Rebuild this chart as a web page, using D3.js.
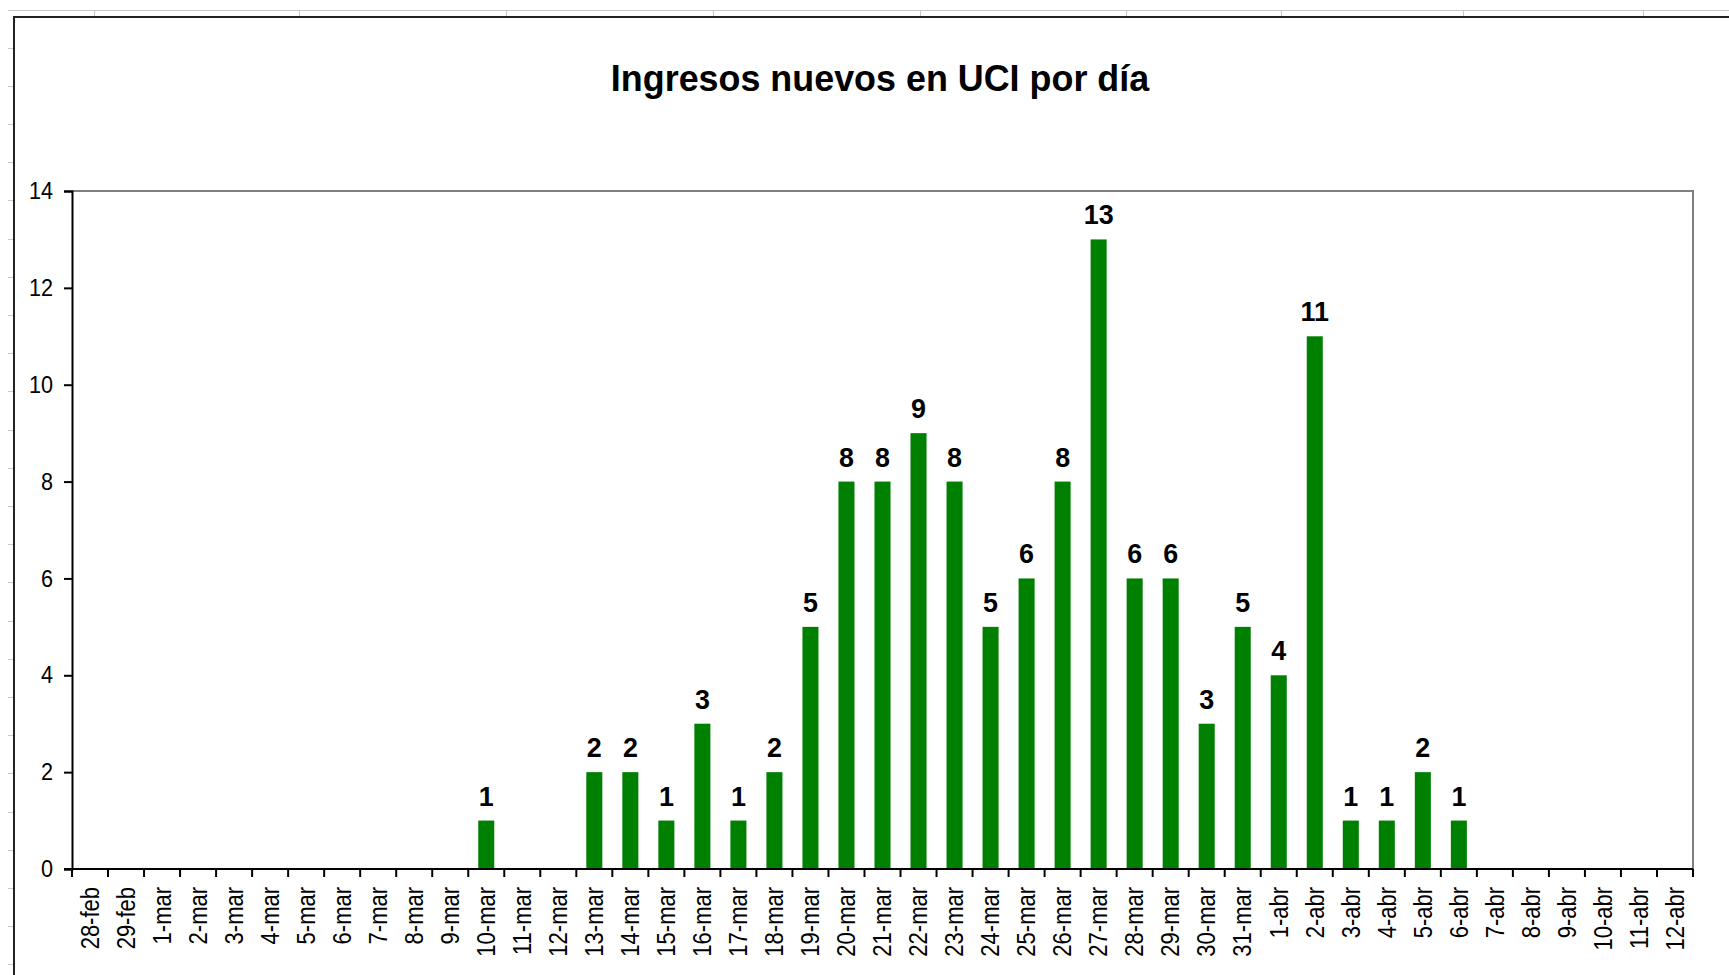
<!DOCTYPE html>
<html>
<head>
<meta charset="utf-8">
<script src="https://cdn.jsdelivr.net/npm/d3@7"></script>
<style>
  body { margin: 0; background: #fff; }
  text { font-family: "Liberation Sans", Arial, sans-serif; }
</style>
</head>
<body>
<div id="chart"></div>
<script>
// Data
var days = ["28-feb", "29-feb",
  "1-mar", "2-mar", "3-mar", "4-mar", "5-mar", "6-mar", "7-mar", "8-mar", "9-mar", "10-mar",
  "11-mar", "12-mar", "13-mar", "14-mar", "15-mar", "16-mar", "17-mar", "18-mar", "19-mar", "20-mar",
  "21-mar", "22-mar", "23-mar", "24-mar", "25-mar", "26-mar", "27-mar", "28-mar", "29-mar", "30-mar", "31-mar",
  "1-abr", "2-abr", "3-abr", "4-abr", "5-abr", "6-abr", "7-abr", "8-abr", "9-abr", "10-abr", "11-abr", "12-abr"];

// null = no bar that day
var ingresos = [null, null,
  null, null, null, null, null, null, null, null, null, 1,
  null, null, 2, 2, 1, 3, 1, 2, 5, 8,
  8, 9, 8, 5, 6, 8, 13, 6, 6, 3, 5,
  4, 11, 1, 1, 2, 1, null, null, null, null, null, null];

var yTicks = [0, 2, 4, 6, 8, 10, 12, 14];

var title = "Ingresos nuevos en UCI por día";

// Layout
var svgWidth = 1729, svgHeight = 975;
var plot = { left: 72, top: 191, right: 1693, bottom: 869 };

var svg = d3.select("#chart")
  .append("svg")
  .attr("width", svgWidth)
  .attr("height", svgHeight);

// Spreadsheet cells peeking out behind the chart
var sheet = svg.append("g").attr("stroke", "#c8c8c8").attr("stroke-width", 1);
sheet.append("line").attr("x1", 8).attr("x2", svgWidth).attr("y1", 10.5).attr("y2", 10.5);
[94, 299, 506, 713, 920, 1126, 1281, 1463, 1643].forEach(function(x) {
  sheet.append("line").attr("x1", x + 0.5).attr("x2", x + 0.5).attr("y1", 10).attr("y2", 17);
});
d3.range(47.5, svgHeight, 38.2).forEach(function(y) {
  sheet.append("line").attr("x1", 8).attr("x2", 13).attr("y1", Math.round(y) + 0.5).attr("y2", Math.round(y) + 0.5);
});

// Chart frame
svg.append("path")
  .attr("d", "M14,975 V17 H1729")
  .attr("fill", "none")
  .attr("stroke", "#222")
  .attr("stroke-width", 2);

// Scales
var xScale = d3.scaleBand()
  .domain(days)
  .range([plot.left, plot.right])
  .paddingInner(0.555)
  .paddingOuter(0.2775);

var yScale = d3.scaleLinear()
  .domain([0, 14])
  .range([plot.bottom, plot.top]);

// Plot area border (top / right)
svg.append("path")
  .attr("d", `M${plot.left},${plot.top} H${plot.right} V${plot.bottom}`)
  .attr("fill", "none")
  .attr("stroke", "#808080")
  .attr("stroke-width", 2);

// Bars
var barData = days.map(function(d, i) { return { day: d, value: ingresos[i] }; })
  .filter(function(d) { return d.value != null; });

svg.append("g").selectAll("rect")
  .data(barData)
  .enter()
  .append("rect")
  .attr("x", d => xScale(d.day))
  .attr("y", d => yScale(d.value))
  .attr("width", xScale.bandwidth())
  .attr("height", d => yScale(0) - yScale(d.value))
  .attr("fill", "#008000");

// Value labels
svg.append("g").selectAll("text")
  .data(barData)
  .enter()
  .append("text")
  .attr("transform", d => `translate(${xScale(d.day) + xScale.bandwidth() / 2}, ${yScale(d.value) - 15}) scale(0.96,1)`)
  .attr("text-anchor", "middle")
  .attr("font-size", "28px")
  .attr("font-weight", "bold")
  .attr("fill", "#000")
  .text(d => d.value);

// Y axis
var yAxis = d3.axisLeft(yScale)
  .tickValues(yTicks)
  .tickSize(8)
  .tickPadding(11);

var yG = svg.append("g")
  .attr("transform", `translate(${plot.left}, 0)`)
  .call(yAxis);
yG.select(".domain").attr("stroke", "#000").attr("stroke-width", 2);
yG.selectAll(".tick line").attr("stroke", "#000").attr("stroke-width", 2);
yG.selectAll(".tick text")
  .attr("font-family", "Liberation Sans, Arial, sans-serif")
  .attr("font-size", "24px")
  .attr("fill", "#000")
  .attr("transform", "translate(-19,0) scale(0.9,1)")
  .attr("x", 0);

// X axis: ticks on category boundaries
var xAxisG = svg.append("g")
  .attr("transform", `translate(0, ${plot.bottom})`);
xAxisG.append("line")
  .attr("x1", plot.left - 8).attr("x2", plot.right)
  .attr("stroke", "#000").attr("stroke-width", 2);

var step = xScale.step();
xAxisG.selectAll(".xtick")
  .data(d3.range(days.length + 1))
  .enter()
  .append("line")
  .attr("class", "xtick")
  .attr("x1", i => plot.left + i * step)
  .attr("x2", i => plot.left + i * step)
  .attr("y1", 0).attr("y2", 8)
  .attr("stroke", "#000").attr("stroke-width", 2);

xAxisG.selectAll(".xlabel")
  .data(days)
  .enter()
  .append("text")
  .attr("class", "xlabel")
  .attr("transform", d => `translate(${xScale(d) + xScale.bandwidth() / 2}, 18) rotate(-90) scale(0.88,1)`)
  .attr("text-anchor", "end")
  .attr("dy", "0.35em")
  .attr("font-size", "25px")
  .attr("fill", "#000")
  .text(d => d);

// Title
svg.append("text")
  .attr("transform", "translate(880, 91) scale(0.97,1)")
  .attr("text-anchor", "middle")
  .attr("font-size", "37px")
  .attr("font-weight", "bold")
  .attr("fill", "#000")
  .text(title);
</script>
</body>
</html>
